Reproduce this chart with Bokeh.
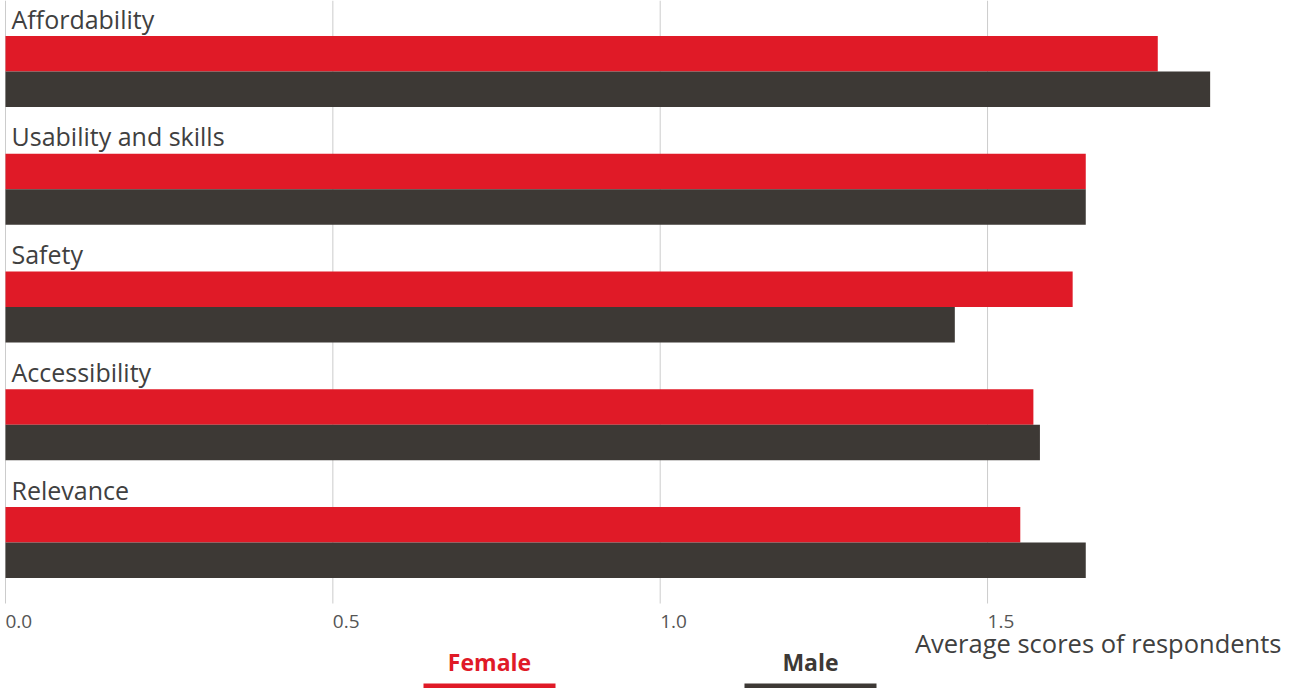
from bokeh.plotting import figure
from bokeh.models import Range1d, ColumnDataSource
from bokeh.core.properties import value
from bokeh.embed import file_html
from bokeh.resources import INLINE

categories = ["Affordability", "Usability and skills", "Safety", "Accessibility", "Relevance"]
female = [1.76, 1.65, 1.63, 1.57, 1.55]
male = [1.84, 1.65, 1.45, 1.58, 1.65]
tick_values = [0.0, 0.5, 1.0, 1.5]
tick_labels = ["0.0", "0.5", "1.0", "1.5"]
series_names = ["Female", "Male"]
axis_title = "Average scores of respondents"

RED = "#E01A27"
DARK = "#3D3935"
TEXT = "#404040"
FONT = "Open Sans"

W, H = 1295, 688
X0PX, XSCALE = 5, 654.7          # pixel of value 0, pixels per unit
Y0PX, YSCALE = 71, 117.75        # pixel of first category boundary, pixels per category


def px_x(px):
    return (px - X0PX) / XSCALE


def px_y(py):
    return (py - Y0PX) / YSCALE


p = figure(width=W, height=H, x_range=Range1d(px_x(0), px_x(W)),
           y_range=Range1d(px_y(H), px_y(0)), min_border=0,
           toolbar_location=None, output_backend="svg",
           x_axis_location=None, y_axis_location=None)
p.outline_line_color = None
p.grid.visible = False
p.background_fill_color = "white"
p.border_fill_color = "white"

idx = list(range(len(categories)))
bar_h = 35.5 / YSCALE
src = ColumnDataSource(dict(
    cat=categories,
    yf=[i - bar_h / 2 for i in idx],
    ym=[i + bar_h / 2 for i in idx],
    yl=[i - 53 / YSCALE for i in idx],
    female=female,
    male=male,
))

# grid lines
grid_bottom = px_y(603)
p.segment(x0=tick_values, x1=tick_values, y0=[px_y(0)] * len(tick_values),
          y1=[grid_bottom] * len(tick_values), line_color="#cccccc", line_width=1)

p.hbar(y="yf", right="female", left=0, height=bar_h, source=src,
       fill_color=RED, line_color=None)
p.hbar(y="ym", right="male", left=0, height=bar_h, source=src,
       fill_color=DARK, line_color=None)

# category labels
p.text(x=0, y="yl", text="cat", source=src, x_offset=6,
       text_font=value(FONT), text_font_size="25px", text_color=TEXT,
       text_baseline="middle", text_align="left")

# tick labels (left aligned at tick)
p.text(x=tick_values, y=[px_y(621)] * len(tick_values), text=tick_labels,
       x_offset=0, text_font=value(FONT), text_font_size="19px",
       text_color="#555555", text_baseline="middle", text_align="left")

# axis title
p.text(x=[px_x(1281)], y=[px_y(642)], text=[axis_title],
       text_font=value(FONT), text_font_size="25.5px", text_color=TEXT,
       text_baseline="middle", text_align="right")

# legend
leg_centers = [px_x(489), px_x(810)]
leg_half = 66 / XSCALE
leg_colors = [RED, DARK]
p.text(x=leg_centers, y=[px_y(661)] * 2, text=series_names,
       text_font=value(FONT), text_font_size="23px", text_font_style="bold",
       text_color=leg_colors, text_baseline="middle", text_align="center")
p.segment(x0=[c - leg_half for c in leg_centers], x1=[c + leg_half for c in leg_centers],
          y0=[px_y(685.5)] * 2, y1=[px_y(685.5)] * 2, line_color=leg_colors, line_width=5)

open("out.html", "w").write(file_html(p, INLINE))
